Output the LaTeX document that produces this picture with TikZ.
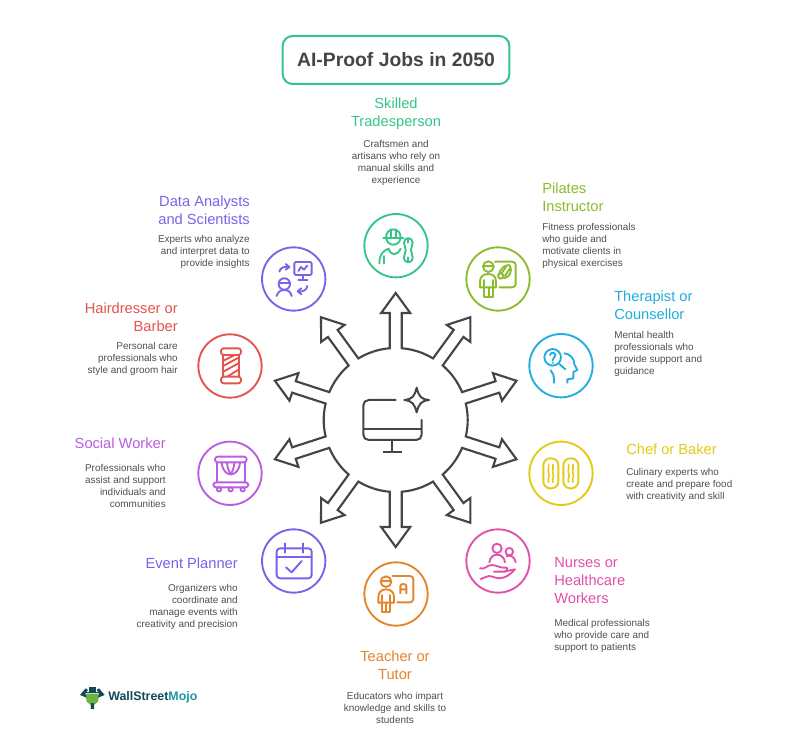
\documentclass[tikz,border=0pt]{standalone}
\usepackage{fontspec}
\setmainfont{Liberation Sans}
\definecolor{ink}{HTML}{454545}
\definecolor{bodyc}{HTML}{4F4F4F}
\definecolor{cskill}{HTML}{34C58A}
\definecolor{cdata}{HTML}{7C62E9}
\definecolor{cpil}{HTML}{8DBB2E}
\definecolor{cther}{HTML}{1FAEDD}
\definecolor{cchef}{HTML}{E3CB14}
\definecolor{cnurse}{HTML}{E250AA}
\definecolor{cteach}{HTML}{E5852B}
\definecolor{cevent}{HTML}{7A60EC}
\definecolor{csoc}{HTML}{B95EE2}
\definecolor{chair}{HTML}{E5534F}
\definecolor{wsm}{HTML}{0F4A5A}
\definecolor{wsmb}{HTML}{1F98A0}
\definecolor{wsmg}{HTML}{6DB33F}
\tikzset{
  ring/.style={circle,draw=#1,line width=1.4pt,minimum size=47.5pt,inner sep=0pt},
  head/.style={inner sep=0pt,text=#1,font=\fontsize{11}{13.5}\selectfont},
  bodyt/.style={inner sep=0pt,text=bodyc,font=\fontsize{7.45}{9}\selectfont},
  icon/.style={line width=1.4pt,line cap=round,line join=round,draw=#1},
  zoomed/.style={x=.25pt,y=-.25pt}
}
\begin{document}
\begin{tikzpicture}[x=.75pt,y=-.75pt]
\useasboundingbox (0,0) rectangle (792,737);
\fill[white] (0,0) rectangle (792,737);
% title
\node[draw=cskill,line width=1.5pt,rounded corners=7.5pt,minimum width=170pt,minimum height=36pt,inner sep=0pt,text=ink,font=\fontsize{14.5}{18}\selectfont\bfseries] (title) at (396,60) {AI-Proof Jobs in 2050};
% central arrows
\begin{scope}[shift={(395.7,420)},x=.75pt,y=.75pt]
\foreach \a in {90,54,18,-18,-54,-90,-126,-162,162,126}{
  \draw[ink,line width=1.6pt,line join=miter,rotate=\a]
    (18:72) arc[start angle=18,end angle=4.78,radius=72]
    -- (107,6) -- (107,14.5) -- (127,0) -- (107,-14.5) -- (107,-6) -- (4.78*-1:72)
    arc[start angle=-4.78,end angle=-18,radius=72];
}
\end{scope}
% monitor
\begin{scope}[shift={(250,200)},zoomed]
\draw[ink,line width=1.5pt,line cap=round,rounded corners=4pt] (437,600) -- (340,600) -- (340,720) -- (515,720) -- (515,660);
\draw[ink,line width=1.5pt] (340,688) -- (515,688) (427,720) -- (427,757) (399,757) -- (455,757);
\draw[ink,line width=1.5pt,line join=round] (500,563) .. controls (507,590) and (512,597) .. (537,600) .. controls (512,603) and (507,612) .. (500,637) .. controls (493,612) and (488,603) .. (463,600) .. controls (488,597) and (493,590) .. (500,563) -- cycle;
\end{scope}
% rings
\node[ring=cskill] (skill) at (396,245.7) {};
\node[ring=cdata] (data) at (293.7,279) {};
\node[ring=cpil] (pil) at (498,279) {};
\node[ring=cther] (ther) at (561,365.7) {};
\node[ring=cchef] (chef) at (561,473.3) {};
\node[ring=cnurse] (nurse) at (498,561) {};
\node[ring=cteach] (teach) at (396,594) {};
\node[ring=cevent] (event) at (293.7,561) {};
\node[ring=csoc] (soc) at (230,473.3) {};
\node[ring=chair] (hair) at (230,366) {};
% skilled icon
\begin{scope}[shift={(350,200)},zoomed,icon=cskill]
\draw (100,113) -- (160,113);
\draw (108,113) .. controls (108,80) and (152,80) .. (152,113);
\draw (124,88) -- (124,111) (138,88) -- (138,111);
\draw (109,116) .. controls (112,140) and (148,140) .. (151,116);
\draw (88,190) .. controls (88,165) and (98,152) .. (116,146) .. controls (122,168) and (142,168) .. (152,146);
\draw (103,190) -- (103,168);
\draw (162,128) .. controls (162,110) and (188,110) .. (188,128) .. controls (188,138) and (183,140) .. (183,150) .. controls (183,160) and (188,162) .. (188,172) .. controls (188,192) and (162,192) .. (162,172) .. controls (162,162) and (167,160) .. (167,150) .. controls (167,140) and (162,138) .. (162,128) -- cycle;
\draw (175,116) -- (175,128) (175,172) -- (175,184);
\end{scope}
% data icon
\begin{scope}[shift={(250,200)},zoomed,icon=cdata]
\draw[rounded corners=1pt] (133,186) rectangle (185,225);
\draw (158,225) -- (158,240) (145,240) -- (172,240);
\draw (145,213) -- (153,201) -- (162,209) -- (172,197);
\draw (103,252) circle[radius=4.3pt];
\draw (87,249) -- (119,249);
\draw (80,288) .. controls (84,275) and (92,270) .. (103,270) .. controls (114,270) and (122,275) .. (125,288);
\draw (88,215) .. controls (90,204) and (102,198) .. (117,201);
\draw (107,192) -- (118,201) -- (107,209);
\draw (172,258) .. controls (170,270) and (158,277) .. (144,274);
\draw (154,265) -- (143,274) -- (154,283);
\end{scope}
% pilates icon
\begin{scope}[shift={(250,200)},zoomed,icon=cpil]
\draw (715,200) circle[radius=4pt];
\draw (700,197) -- (731,197);
\draw[rounded corners=2.5pt] (735,185) -- (797,185) -- (797,262) -- (748,262);
\draw (690,262) -- (690,245) .. controls (690,230) and (700,222) .. (715,222) .. controls (730,222) and (738,230) .. (738,245) -- (738,262) -- cycle;
\draw (702,262) -- (702,290) -- (730,290) -- (730,262) (716,262) -- (716,290);
\draw (702,240) -- (702,262) (730,240) -- (730,262);
\draw (746,225) .. controls (750,205) and (765,195) .. (778,195) .. controls (790,215) and (778,232) .. (762,235);
\draw (755,220) -- (770,197) (765,228) -- (780,205);
\draw (752,228) circle[radius=2pt];
\end{scope}
% therapist icon
\begin{scope}[shift={(520,325)},zoomed,icon=cther]
\draw (98,97) circle[radius=6.2pt];
\draw (90,90) .. controls (92,80) and (108,82) .. (106,92) .. controls (105,98) and (98,98) .. (98,106);
\draw (98,113) -- (98,114);
\draw (118,117) -- (136,133);
\draw (133,85) .. controls (150,87) and (163,100) .. (163,118) -- (172,135) -- (160,141) -- (160,160) -- (142,163) -- (142,173);
\draw (92,136) .. controls (100,145) and (102,150) .. (102,173);
\end{scope}
% chef icon
\begin{scope}[shift={(520,325)},zoomed,icon=cchef]
\draw[rounded corners=5.2pt] (70,400) rectangle (115,490);
\draw[rounded corners=5.2pt] (130,400) rectangle (175,490);
\foreach \x in {86,99,146,159}{
  \draw[line width=1.2pt] (\x,418) .. controls (\x+5,428) and (\x-5,434) .. (\x,445) .. controls (\x+5,455) and (\x-5,462) .. (\x,472);
}
\end{scope}
% nurse icon
\begin{scope}[shift={(350,520)},zoomed,icon=cnurse]
\draw (441,85) circle[radius=3.5pt];
\draw (418,127) .. controls (420,112) and (430,104) .. (441,104) .. controls (453,104) and (463,112) .. (465,127);
\draw (478,95) circle[radius=2.8pt];
\draw (470,108) .. controls (483,104) and (495,112) .. (497,127);
\draw (390,145) .. controls (405,150) and (410,135) .. (425,135) .. controls (440,135) and (450,145) .. (468,143) .. controls (475,142) and (472,155) .. (462,155) -- (432,155);
\draw (462,155) -- (495,148) .. controls (480,165) and (465,175) .. (445,175) .. controls (430,172) and (420,165) .. (410,170) -- (392,177);
\end{scope}
% teacher icon
\begin{scope}[shift={(350,520)},zoomed,icon=cteach]
\draw (108,185) circle[radius=4pt];
\draw (92,182) -- (124,182);
\draw[rounded corners=2.5pt] (128,168) -- (190,168) -- (190,247) -- (142,247);
\draw (85,248) -- (85,232) .. controls (85,216) and (95,208) .. (108,208) .. controls (122,208) and (132,216) .. (132,232) -- (132,248) -- cycle;
\draw (96,248) -- (96,275) -- (121,275) -- (121,248) (108,248) -- (108,275);
\draw (96,225) -- (96,248) (121,225) -- (121,248);
\draw (151,220) -- (151,198) .. controls (151,190) and (169,190) .. (169,198) -- (169,220) (151,208) -- (169,208);
\end{scope}
% event icon
\begin{scope}[shift={(190,430)},zoomed,icon=cevent]
\draw[rounded corners=2.5pt] (260,355) rectangle (365,445);
\draw (260,380) -- (365,380);
\draw (285,340) -- (285,368) (340,340) -- (340,368);
\draw (288,412) -- (305,427) -- (335,393);
\end{scope}
% social icon
\begin{scope}[shift={(190,430)},zoomed,icon=csoc]
\draw[rounded corners=2pt] (75,80) rectangle (170,97);
\draw (81,97) -- (81,157) (164,97) -- (164,157);
\draw[rounded corners=2pt] (70,157) rectangle (175,172);
\draw (95,97) .. controls (97,122) and (110,133) .. (122,133) .. controls (135,133) and (148,122) .. (150,97);
\draw (111,98) .. controls (112,115) and (118,125) .. (122,133) .. controls (127,125) and (132,115) .. (133,98);
\draw (87,178) circle[radius=1.6pt] (122,178) circle[radius=1.6pt] (158,178) circle[radius=1.6pt];
\end{scope}
% hair icon
\begin{scope}[shift={(190,240)},zoomed,icon=chair]
\draw[rounded corners=2pt] (93,325) rectangle (153,345);
\draw[rounded corners=2pt] (93,410) rectangle (153,430);
\draw (100,345) -- (100,410) (147,345) -- (147,410);
\draw (100,362) -- (132,346) (100,378) -- (147,352) (100,395) -- (147,369) (112,410) -- (147,388);
\end{scope}
% labels
\node[head=cskill,align=center] (skillh) at (396,114) {Skilled\\Tradesperson};
\node[bodyt,align=center] (skillb) at (396,162.5) {Craftsmen and\\artisans who rely on\\manual skills and\\experience};
\node[head=cpil,align=left,anchor=west] (pilh) at (542,197) {Pilates\\Instructor};
\node[bodyt,align=left,anchor=west] (pilb) at (542,246) {Fitness professionals\\who guide and\\motivate clients in\\physical exercises};
\node[head=cther,align=left,anchor=west] (therh) at (614,305) {Therapist or\\Counsellor};
\node[bodyt,align=left,anchor=west] (therb) at (614,354) {Mental health\\professionals who\\provide support and\\guidance};
\node[head=cchef,align=left,anchor=west] (chefh) at (626,449) {Chef or Baker};
\node[bodyt,align=left,anchor=west] (chefb) at (626,485) {Culinary experts who\\create and prepare food\\with creativity and skill};
\node[head=cnurse,align=left,anchor=west] (nurseh) at (554,581) {Nurses or\\Healthcare\\Workers};
\node[bodyt,align=left,anchor=west] (nurseb) at (554,636) {Medical professionals\\who provide care and\\support to patients};
\node[head=cteach,align=center] (teachh) at (395,665) {Teacher or\\Tutor};
\node[bodyt,align=center] (teachb) at (395,708) {Educators who impart\\knowledge and skills to\\students};
\node[head=cevent,align=right,anchor=east] (eventh) at (238,563) {Event Planner};
\node[bodyt,align=right,anchor=east] (eventb) at (238,607) {Organizers who\\coordinate and\\manage events with\\creativity and precision};
\node[head=csoc,align=right,anchor=east] (soch) at (166,443) {Social Worker};
\node[bodyt,align=right,anchor=east] (socb) at (166,486) {Professionals who\\assist and support\\individuals and\\communities};
\node[head=chair,align=right,anchor=east] (hairh) at (178,317) {Hairdresser or\\Barber};
\node[bodyt,align=right,anchor=east] (hairb) at (178,359) {Personal care\\professionals who\\style and groom hair};
\node[head=cdata,align=right,anchor=east] (datah) at (250,210) {Data Analysts\\and Scientists};
\node[bodyt,align=right,anchor=east] (datab) at (250,252) {Experts who analyze\\and interpret data to\\provide insights};
% logo
\begin{scope}[shift={(70,675)},zoomed]
\fill[wsmg] (46,56) -- (88,56) -- (84,80) -- (72,90) -- (72,102) -- (62,102) -- (62,90) -- (50,80) -- cycle;
\fill[wsm] (62,84) rectangle (72,102);
\fill[wsm] (56,36) rectangle (78,52);
\fill[wsm] (48,50) rectangle (86,55);
\fill[wsm] (30,60) -- (47,40) -- (54,45) -- (46,56) -- (50,68) -- cycle;
\fill[wsm] (104,60) -- (87,40) -- (80,45) -- (88,56) -- (84,68) -- cycle;
\end{scope}
\node[inner sep=0pt,anchor=west,font=\fontsize{9.3}{12}\selectfont\bfseries] (logo) at (108,697) {\textcolor{wsm}{WallStreet}\textcolor{wsmb}{Mojo}};
\end{tikzpicture}
\end{document}
